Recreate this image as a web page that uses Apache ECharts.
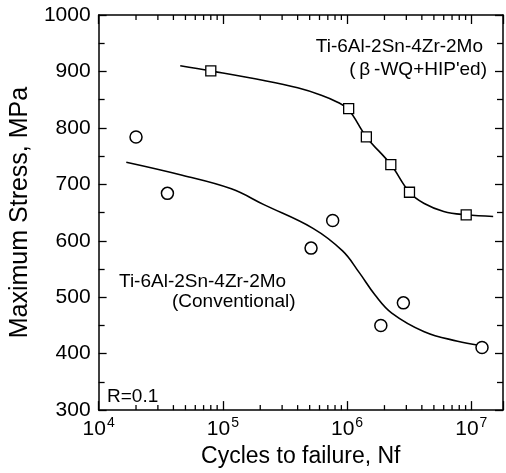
<!DOCTYPE html>
<html>
<head>
<meta charset="utf-8">
<script src="https://cdn.jsdelivr.net/npm/echarts@6/dist/echarts.min.js"></script>
<style>
html,body{margin:0;padding:0;background:#fff;}
#chart{width:506px;height:473px;}
</style>
</head>
<body>
<div id="chart"></div>
<script>
// ---- data ----
const hipPointsX = [8.0e4, 1.03e6, 1.43e6, 2.25e6, 3.18e6, 9.1e6];
const hipPointsY = [901, 834, 784, 735, 686, 646];
const hipCurveX = [4.54e4, 8.0e4, 2.14e5, 4.0e5, 6.2e5, 8.3e5, 1.03e6, 1.43e6, 2.25e6, 3.18e6, 4.18e6, 6.0e6, 9.1e6, 1.5e7];
const hipCurveY = [910, 901, 884, 871, 858, 846, 832, 784, 735, 686, 666, 652, 646, 643];

const convPointsX = [2.0e4, 3.58e4, 5.13e5, 7.66e5, 1.87e6, 2.84e6, 1.22e7];
const convPointsY = [784, 684, 587, 636, 450, 490, 411];
const convCurveX = [1.67e4, 4.71e4, 1.17e5, 2.14e5, 5.32e5, 9.2e5, 1.25e6, 1.68e6, 2.29e6, 4.18e6, 7.76e6, 1.15e7];
const convCurveY = [739, 716, 692, 664, 622, 582, 544, 504, 472, 439, 422, 415];

const xMin = 1e4, xMax = 1.8e7;
const yMin = 300, yMax = 1000, yStep = 100;
const minorXTicks = [];
[1e4, 1e5, 1e6, 1e7].forEach(d => { for (let k = 2; k <= 9; k++) { if (d * k < xMax) minorXTicks.push(d * k); } });

const FONT = '"Liberation Sans", Arial, Helvetica, sans-serif';
const zip = (a, b) => a.map((v, i) => [v, b[i]]);

const chart = echarts.init(document.getElementById('chart'), null, {renderer: 'canvas'});

const axisLine = {show: true, lineStyle: {color: '#000', width: 1.5}};
const xLabelFmt = v => {
  const e = Math.log10(v);
  if (Math.abs(e - Math.round(e)) > 1e-6) return '';
  return '{b|10}{s|' + Math.round(e) + '}';
};

chart.setOption({
  animation: false,
  backgroundColor: '#fff',
  grid: {left: 92, right: 3, top: 15, bottom: 56, containLabel: false},
  xAxis: [
    {
      type: 'log', logBase: 10, min: xMin, max: xMax, position: 'bottom',
      axisLine: axisLine,
      axisTick: {show: true, inside: true, length: 9, lineStyle: {color: '#000', width: 1.3}},
      splitLine: {show: false},
      axisLabel: {
        formatter: xLabelFmt, margin: 6, color: '#000', fontFamily: FONT,
        rich: {
          b: {fontSize: 21, fontFamily: FONT, color: '#000', lineHeight: 24, verticalAlign: 'bottom'},
          s: {fontSize: 14, fontFamily: FONT, color: '#000', lineHeight: 24, verticalAlign: 'top', padding: [0, 0, 0, 1]}
        }
      },
      name: 'Cycles to failure, Nf', nameLocation: 'middle', nameGap: 33,
      nameTextStyle: {fontSize: 23, fontFamily: FONT, color: '#000'}
    },
    {
      type: 'log', logBase: 10, min: xMin, max: xMax, position: 'top',
      axisLine: axisLine,
      axisTick: {show: true, inside: true, length: 9, lineStyle: {color: '#000', width: 1.3}},
      axisLabel: {show: false}, splitLine: {show: false}
    }
  ],
  yAxis: [
    {
      type: 'value', min: yMin, max: yMax, interval: yStep, position: 'left',
      axisLine: axisLine,
      axisTick: {show: true, inside: true, length: 8, lineStyle: {color: '#000', width: 1.3}},
      minorTick: {show: true, splitNumber: 2, length: 6, lineStyle: {color: '#000', width: 1.3}},
      splitLine: {show: false},
      axisLabel: {fontSize: 21, fontFamily: FONT, color: '#000', margin: 8, formatter: v => String(v)},
      name: 'Maximum Stress, MPa', nameLocation: 'middle', nameGap: 57, nameRotate: 90,
      nameTextStyle: {fontSize: 25, fontFamily: FONT, color: '#000'}
    },
    {
      type: 'value', min: yMin, max: yMax, interval: yStep, position: 'right',
      axisLine: axisLine,
      axisTick: {show: true, inside: true, length: 8, lineStyle: {color: '#000', width: 1.3}},
      minorTick: {show: true, splitNumber: 2, length: 6, lineStyle: {color: '#000', width: 1.3}},
      splitLine: {show: false}, axisLabel: {show: false}
    }
  ],
  series: [
    {
      type: 'custom', xAxisIndex: 0, yAxisIndex: 0, silent: true, clip: false, z: 5,
      data: minorXTicks.map(v => [v, yMin]),
      renderItem: (params, api) => {
        const cs = params.coordSys;
        const px = api.coord([api.value(0), yMin])[0];
        const len = 5;
        const st = {stroke: '#000', lineWidth: 1.3};
        return {type: 'group', children: [
          {type: 'line', shape: {x1: px, y1: cs.y + cs.height, x2: px, y2: cs.y + cs.height - len}, style: st},
          {type: 'line', shape: {x1: px, y1: cs.y, x2: px, y2: cs.y + len}, style: st}
        ]};
      }
    },
    {
      type: 'line', data: zip(hipCurveX, hipCurveY), smooth: 0.4, showSymbol: false, symbol: 'none',
      lineStyle: {color: '#000', width: 1.6}, z: 3, silent: true
    },
    {
      type: 'line', data: zip(convCurveX, convCurveY), smooth: 0.4, showSymbol: false, symbol: 'none',
      lineStyle: {color: '#000', width: 1.6}, z: 3, silent: true
    },
    {
      type: 'scatter', data: zip(hipPointsX, hipPointsY), symbol: 'rect', symbolSize: 10,
      itemStyle: {color: '#ffffff', opacity: 1, borderColor: '#000', borderWidth: 1.3}, z: 4, silent: true
    },
    {
      type: 'scatter', data: zip(convPointsX, convPointsY), symbol: 'circle', symbolSize: 12,
      itemStyle: {color: '#ffffff', opacity: 1, borderColor: '#000', borderWidth: 1.5}, z: 4, silent: true
    }
  ],
  graphic: [
    {type: 'text', right: 23, top: 37, style: {text: 'Ti-6Al-2Sn-4Zr-2Mo', font: '19px ' + FONT, fill: '#000'}},
    {type: 'text', right: 19, top: 60, style: {text: "(\u2009β\u2009-WQ+HIP'ed)", font: '19px ' + FONT, fill: '#000'}},
    {type: 'text', left: 119, top: 272, style: {text: 'Ti-6Al-2Sn-4Zr-2Mo', font: '19px ' + FONT, fill: '#000'}},
    {type: 'text', left: 172, top: 292, style: {text: '(Conventional)', font: '19px ' + FONT, fill: '#000'}},
    {type: 'text', left: 107, top: 387, style: {text: 'R=0.1', font: '19px ' + FONT, fill: '#000'}}
  ]
});
</script>
</body>
</html>
